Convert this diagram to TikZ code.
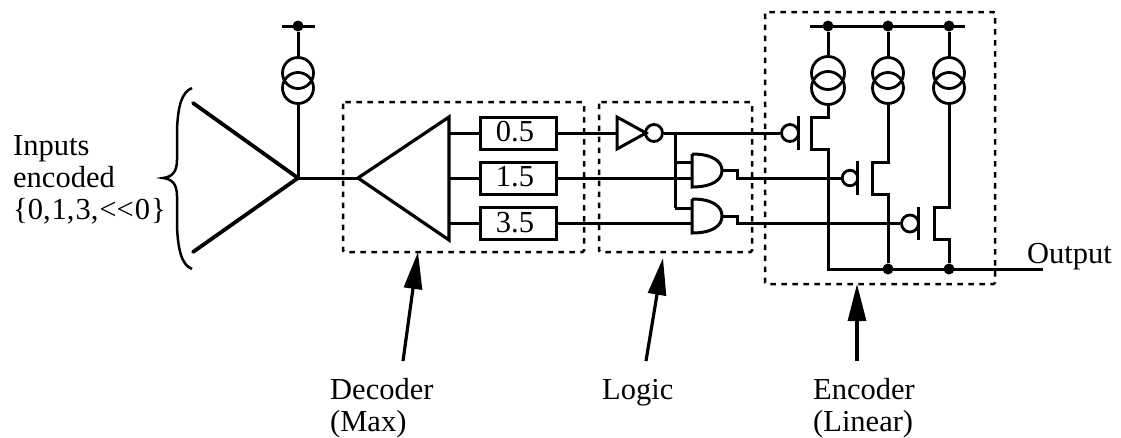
\documentclass[tikz,border=0pt]{standalone}
\usepackage{fontspec}
\setmainfont{Liberation Serif}
\usetikzlibrary{arrows.meta}
\tikzset{
  wire/.style={line width=3pt},
  boxdash/.style={line width=2.5pt,dash pattern=on 5.5pt off 5.5pt,rounded corners=1.5pt},
  lab/.style={font=\fontsize{30.5}{32}\selectfont,inner sep=0pt,align=left},
  gain/.style={draw,line width=3.2pt,line join=miter},
  valbox/.style={draw,line width=3pt,minimum width=76pt,minimum height=32pt,inner sep=0pt,font=\fontsize{30.5}{32}\selectfont},
  pin/.style={circle,fill=black,inner sep=0pt,minimum size=11pt},
  ring/.style={circle,draw,line width=2.8pt,inner sep=0pt,minimum size=17pt},
  src/.style={circle,draw,line width=2.8pt,inner sep=0pt,minimum size=31pt},
  callout/.style={line width=3.2pt,-{Triangle[length=37pt,width=18pt]}},
}
\begin{document}
\begin{tikzpicture}[x=1pt,y=-1pt]
\useasboundingbox (0,0) rectangle (1121,437);
% dashed frames
\draw[boxdash] (343,102) rectangle (584,252);
\draw[boxdash] (599,102) rectangle (752,252);
\draw[boxdash] (765,12) rectangle (995,284);
\coordinate (decB) at (418,252);
\coordinate (logB) at (663,258);
\coordinate (encB) at (857,284);
% input stage
\draw[line width=3pt] (282,26) -- (315,26);
\node[pin] (p0) at (298,26) {};
\node[src] (s0a) at (298,73) {};
\node[src] (s0b) at (298,88) {};
\coordinate (apex) at (298,178);
\draw[wire] (p0) -- (s0a);
\draw[wire] (s0b) -- (apex);
\draw[line width=3.8pt,line cap=round,line join=miter] (193,103) -- (apex) -- (193,252);
\draw[line width=2.5pt] (192,88) .. controls (182,92) and (178,105) .. (177,130) -- (177,160) .. controls (177,172) and (172,177) .. (163,178) .. controls (172,179) and (177,184) .. (177,196) -- (177,226) .. controls (178,251) and (182,265) .. (192,269);
\node[lab,anchor=base west] (inl) at (13,219) {Inputs\\[0pt]encoded\\[0pt]\{0,\kern1pt1,\kern1pt3,\kern1pt{<}{<}\kern1pt0\kern1pt\}};
% decoder
\coordinate (tip) at (358,178);
\draw[gain] (tip) -- (449,117) -- (449,240) -- cycle;
\draw[wire] (apex) -- (tip);
\node[valbox] (b1) at (518,133) {\raisebox{3pt}{\kern-6pt 0.5}};
\node[valbox] (b2) at (518,178) {\raisebox{3pt}{\kern-6pt 1.5}};
\node[valbox] (b3) at (518,223.5) {\raisebox{3pt}{\kern-6pt 3.5}};
\draw[wire] (449,133) -- (b1);
\draw[wire] (449,178) -- (b2);
\draw[wire] (449,223.5) -- (b3);
% logic
\draw[wire] (617,117) -- (617,149) -- (646,133) -- cycle;
\node[ring] (inv) at (654,133) {};
\draw[wire] (b1) -- (617,133);
% and gates
\draw[wire] (692,154) -- (692,187) .. controls (712,187) and (722,180) .. (722,170.5) .. controls (722,161) and (712,154) .. (692,154);
\draw[wire] (692,199) -- (692,233) .. controls (712,233) and (722,226) .. (722,216) .. controls (722,206) and (712,199) .. (692,199);
\draw[wire] (675,133) -- (675,208);
\draw[wire] (675,162) -- (692,162);
\draw[wire] (675,208) -- (692,208);
\draw[wire] (b2) -- (692,178);
\draw[wire] (b3) -- (692,223.5);
% encoder transistors
\node[ring] (g1) at (790,133) {};
\node[ring,minimum size=15.5pt] (g2) at (850,178) {};
\node[ring] (g3) at (910,223.5) {};
\draw[wire] (inv) -- (g1);
\draw[wire,line join=miter] (722,170) -- (737,170) -- (737,178) -- (g2);
\draw[wire,line join=miter] (722,216) -- (737,216) -- (737,223.5) -- (g3);
\draw[wire] (798,116) -- (798,150);
\draw[wire] (857,161) -- (857,195);
\draw[wire] (918,207) -- (918,240);
\draw[line width=3pt] (810,26) -- (965,26);
\node[pin] (t1) at (828,26) {};
\node[pin] (t2) at (888,26) {};
\node[pin] (t3) at (949,26) {};
\node[src,minimum size=33pt] (s1a) at (828,73) {};
\node[src,minimum size=33pt] (s1b) at (828,88) {};
\node[src] (s2a) at (888,73) {};
\node[src] (s2b) at (888,88) {};
\node[src] (s3a) at (949,73) {};
\node[src] (s3b) at (949,88) {};
\draw[wire] (t1) -- (s1a);
\draw[wire] (t2) -- (s2a);
\draw[wire] (t3) -- (s3a);
\coordinate (o1) at (828,269);
\node[pin] (o2) at (888,269) {};
\node[pin] (o3) at (949,269) {};
\coordinate (oe) at (1043,269);
\draw[wire,line join=miter] (s1b) -- (828,117) -- (811,117) -- (811,149) -- (828,149) -- (o1) -- (oe);
\draw[wire,line join=miter] (s2b) -- (888,162) -- (872,162) -- (872,194) -- (888,194) -- (o2);
\draw[wire,line join=miter] (s3b) -- (949,207) -- (934,207) -- (934,239) -- (949,239) -- (o3);
\node[lab,anchor=base west] (out) at (1027,263) {Output};
% callouts
\node[lab,anchor=base west] (dec) at (330,431) {Decoder\\[0pt](Max)};
\node[lab,anchor=base west] (log) at (602,399) {Logic};
\node[lab,anchor=base west] (enc) at (813,431) {Encoder\\[0pt](Linear)};
\coordinate (a1) at (403,361);
\coordinate (a2) at (646,361);
\coordinate (a3) at (857,361);
\draw[callout] (a1) -- (decB);
\draw[callout] (a2) -- (logB);
\draw[callout] (a3) -- (encB);
\end{tikzpicture}
\end{document}
